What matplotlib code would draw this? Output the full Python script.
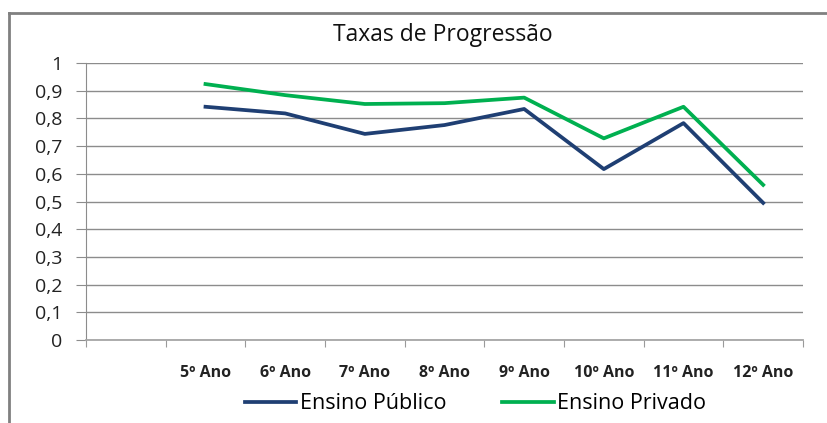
import numpy as np
import matplotlib
matplotlib.use('Agg')
import matplotlib.pyplot as plt
from matplotlib.lines import Line2D
from matplotlib.ticker import FuncFormatter

# Dados (a primeira categoria está vazia)
categorias = ['', '5º Ano', '6º Ano', '7º Ano', '8º Ano', '9º Ano', '10º Ano', '11º Ano', '12º Ano']
ensino_publico = [np.nan, 0.842, 0.818, 0.744, 0.776, 0.834, 0.617, 0.783, 0.495]
ensino_privado = [np.nan, 0.924, 0.884, 0.852, 0.855, 0.875, 0.728, 0.842, 0.560]

plt.rcParams['font.family'] = ['Open Sans', 'DejaVu Sans']

fig = plt.figure(figsize=(8.28, 4.23), dpi=100)
ax = fig.add_axes([86 / 828, 83 / 423, 717 / 828, 277 / 423])

x = np.arange(len(categorias))
ax.plot(x, ensino_publico, color='#1F3F73', lw=2.7, solid_joinstyle='round', label='Ensino Público')
ax.plot(x, ensino_privado, color='#00B050', lw=2.7, solid_joinstyle='round', label='Ensino Privado')

ax.set_xlim(-0.5, len(categorias) - 0.5)
ax.set_ylim(0, 1)
ax.set_yticks(np.arange(0, 1.01, 0.1))
ax.yaxis.set_major_formatter(FuncFormatter(lambda v, p: ('%.1f' % v).replace('.', ',') if v not in (0, 1) else '%d' % round(v)))
ax.tick_params(axis='y', length=7, color='#8c8c8c', labelsize=14, pad=10, labelcolor='#222222')

# marcas nos limites das categorias, rótulos no centro
ax.set_xticks(np.arange(-0.5, len(categorias), 1.0))
ax.set_xticklabels([])
ax.set_xticks(x, minor=True)
ax.set_xticklabels(categorias, minor=True, fontweight='bold', fontsize=11.5, color='#222222')
ax.tick_params(axis='x', which='major', length=5, color='#9a9a9a')
ax.tick_params(axis='x', which='minor', length=0, pad=18)

ax.grid(axis='y', color='#8c8c8c', lw=1)
ax.set_axisbelow(True)
for s in ['top', 'right']:
    ax.spines[s].set_visible(False)
ax.spines['left'].set_color('#8c8c8c')
ax.spines['bottom'].set_color('#a6a6a6')
ax.spines['bottom'].set_linewidth(1.3)

fig.text(0.535, 0.917, 'Taxas de Progressão', ha='center', va='center', fontsize=16.5, color='#111111')

fig.legend(loc='center', bbox_to_anchor=(0.574, 0.045), ncol=2, frameon=False,
           fontsize=15.5, handlelength=2.4, columnspacing=2.6, handletextpad=0.15)

# moldura do gráfico
fig.add_artist(Line2D([9 / 828, 9 / 828], [0, 1 - 13 / 423], color='#808080', lw=2))
fig.add_artist(Line2D([9 / 828, 1], [1 - 13 / 423, 1 - 13 / 423], color='#808080', lw=2))

fig.savefig('out.png', dpi=100)
